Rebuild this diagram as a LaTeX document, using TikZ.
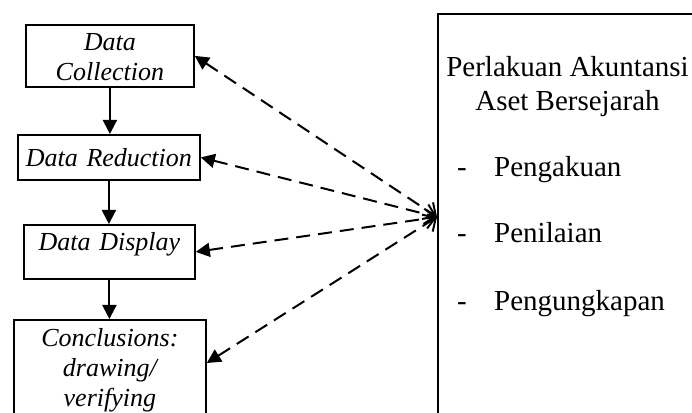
\documentclass[tikz,border=0pt]{standalone}
\usepackage{fontspec}
\setmainfont{Liberation Serif}
\usetikzlibrary{arrows.meta}

\begin{document}
\begin{tikzpicture}
[x=1pt,y=1pt,
  boxDecorate/.style={draw,line width=1.8pt,inner sep=0pt,align=center,anchor=north west,font=\fontsize{26}{30}\selectfont\itshape},
  flowDecorate/.style={line width=2pt,-{Triangle[length=14pt,width=14pt]}},
  linkDecorate/.style={line width=2pt,dash pattern=on 14pt off 8pt,{Triangle[length=14pt,width=14pt]}-{Straight Barb[length=10pt,width=20pt,line width=2pt]}},
  listDecorate/.style={anchor=base west,inner sep=0pt,font=\fontsize{29}{34}\selectfont}]
\clip (0,0) rectangle (692,412);
%% stages on the left
\foreach \nodename/\x/\y/\w/\th/\td/\txt in {
  coll/25/388/168/26/36/{Data\\Collection},
  red/17/278/182/32/13/{Data Reduction},
  disp/23/188/171/26/28/{Data Display},
  concl/13/93/192/27/110/{Conclusions:\\drawing/\\verifying}}
{
  \node (\nodename) at (\x,\y) [boxDecorate,text width=\w pt,text height=\th pt,text depth=\td pt] {\txt};
}
%% box on the right
\node (aset) at (437,399) [draw,line width=1.8pt,anchor=north west,minimum width=300pt,minimum height=420pt] {};
\coordinate (hub) at ([yshift=-204pt]aset.north west);
\node (judul) at (567.5,356) [anchor=north,inner sep=0pt,align=center,font=\fontsize{29}{34}\selectfont] {Perlakuan Akuntansi\\Aset Bersejarah};
\foreach \nodename/\y/\txt in {akui/235/Pengakuan, nilai/169/Penilaian, ungkap/102/Pengungkapan}
{
  \node (\nodename) at (494,\y) [listDecorate] {\txt};
  \node (\nodename-dash) at ([xshift=-37pt]\nodename.base west) [listDecorate] {-};
}
%% arrows
\foreach \startnode/\endnode in {coll/red, red/disp, disp/concl}
{
  \draw[flowDecorate] (\startnode.south) -- (\startnode.south |- \endnode.north);
}
\foreach \endnode in {coll.east, red.east, disp.east}
{
  \draw[linkDecorate] (\endnode) -- (hub);
}
\draw[linkDecorate] ([yshift=-44pt]concl.north east) -- (hub);
\end{tikzpicture}
\end{document}
